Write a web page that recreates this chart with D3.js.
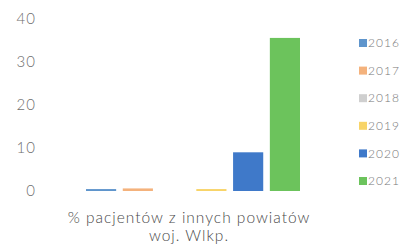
<!DOCTYPE html>
<html>
<head>
<meta charset="utf-8">
<script src="https://cdn.jsdelivr.net/npm/d3@7"></script>
<style>
  body { margin: 0; background: #fff; }
  svg { display: block; font-family: Lato, "Open Sans", sans-serif; }
</style>
</head>
<body>
<div id="chart"></div>
<script>
// data
var categories = ["% pacjentów z innych powiatów|woj. Wlkp."];
var years = ["2016", "2017", "2018", "2019", "2020", "2021"];
var values = [0.45, 0.6, 0, 0.45, 9.0, 35.6];
var yTicks = [0, 10, 20, 30, 40];
var colors = ["#5f95cc", "#f4b27c", "#cfcfcf", "#f8d468", "#3f79c9", "#6cc35c"];

var width = 411, height = 251;

var svg = d3.select("#chart").append("svg")
  .attr("width", width)
  .attr("height", height);

var y = d3.scaleLinear().domain([0, 40]).range([191, 19]);

var x0 = d3.scaleBand().domain(categories).range([86, 300]);
var x1 = d3.scaleBand().domain(years)
  .range([x0(categories[0]), x0(categories[0]) + x0.bandwidth()])
  .paddingInner(0.18);

var color = d3.scaleOrdinal().domain(years).range(colors);

// y tick labels (no axis line in the original)
svg.append("g")
  .selectAll("text")
  .data(yTicks)
  .enter()
  .append("text")
  .attr("x", 36)
  .attr("y", function(d) { return y(d); })
  .attr("dy", "0.35em")
  .attr("text-anchor", "end")
  .style("font-size", "15px")
  .style("font-weight", 300)
  .style("letter-spacing", "1px")
  .style("fill", "#6f6f6f")
  .text(function(d) { return d; });

// bars
svg.append("g")
  .selectAll("rect")
  .data(years)
  .enter()
  .append("rect")
  .attr("x", function(d) { return x1(d); })
  .attr("width", x1.bandwidth())
  .attr("y", function(d, i) { return y(values[i]); })
  .attr("height", function(d, i) { return y(0) - y(values[i]); })
  .style("fill", function(d) { return color(d); });

// category label, two lines
var label = svg.append("text")
  .attr("text-anchor", "middle")
  .style("font-size", "15.5px")
  .style("font-weight", 300)
  .style("letter-spacing", "1px")
  .style("fill", "#4a4a4a");
categories[0].split("|").forEach(function(line, i) {
  label.append("tspan")
    .attr("x", x0(categories[0]) + x0.bandwidth() / 2 - 4)
    .attr("y", 223 + i * 18)
    .text(line);
});

// legend
var legend = d3.scalePoint().domain(years).range([43, 181]);
var lg = svg.append("g")
  .selectAll("g")
  .data(years)
  .enter()
  .append("g")
  .attr("transform", function(d) { return "translate(359," + legend(d) + ")"; });

lg.append("rect")
  .attr("x", 0)
  .attr("y", -4)
  .attr("width", 8)
  .attr("height", 8)
  .style("fill", function(d) { return color(d); });

lg.append("text")
  .attr("x", 9)
  .attr("dy", "0.35em")
  .style("font-size", "12px")
  .style("font-weight", 300)
  .style("letter-spacing", "1px")
  .style("fill", "#777")
  .text(function(d) { return d; });
</script>
</body>
</html>
